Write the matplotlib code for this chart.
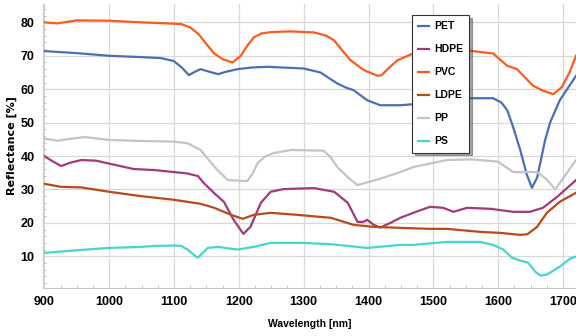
import matplotlib
matplotlib.use("Agg")
import matplotlib.pyplot as plt
from matplotlib.ticker import MultipleLocator

plt.rcParams['font.family'] = ['Liberation Sans', 'DejaVu Sans']

# PET
pet_x = [900, 950, 1000, 1050, 1080, 1100, 1112, 1123, 1132, 1141, 1155, 1168, 1180, 1198, 1220, 1245, 1300, 1326,
         1340, 1352, 1365, 1377, 1398, 1418, 1449, 1469, 1500, 1552, 1592, 1605, 1614, 1623, 1634, 1644, 1652, 1660,
         1665, 1672, 1680, 1695, 1720]
pet_y = [71.4, 70.8, 70.0, 69.6, 69.3, 68.4, 66.5, 64.2, 65.2, 66.0, 65.2, 64.5, 65.2, 66.0, 66.5, 66.7, 66.2, 65.0,
         63.2, 61.7, 60.5, 59.7, 56.7, 55.2, 55.2, 55.5, 56.5, 57.3, 57.3, 56.0, 53.7, 48.7, 41.8, 34.5, 30.5, 33.5,
         38.0, 44.5, 50.0, 56.7, 64.0]
# HDPE
hdpe_x = [900, 912, 926, 940, 957, 980, 1003, 1038, 1070, 1100, 1120, 1137, 1146, 1162, 1177, 1192, 1207, 1218,
          1234, 1249, 1269, 1316, 1347, 1368, 1383, 1392, 1398, 1408, 1418, 1434, 1449, 1469, 1495, 1515, 1531,
          1552, 1588, 1623, 1649, 1669, 1691, 1720]
hdpe_y = [40.0, 38.5, 37.0, 38.0, 38.8, 38.6, 37.6, 36.1, 35.8, 35.2, 34.8, 34.0, 31.9, 28.9, 26.3, 20.9, 16.7, 18.8,
          26.0, 29.3, 30.1, 30.4, 29.3, 26.0, 20.3, 20.3, 20.9, 19.4, 18.6, 20.0, 21.5, 23.0, 24.8, 24.5, 23.3,
          24.5, 24.2, 23.3, 23.3, 24.5, 27.8, 32.8]
# PVC
pvc_x = [900, 920, 950, 1000, 1050, 1090, 1111, 1125, 1138, 1150, 1162, 1175, 1190, 1203, 1213, 1223, 1235, 1250,
         1280, 1316, 1335, 1347, 1360, 1372, 1393, 1414, 1420, 1432, 1445, 1469, 1510, 1552, 1592, 1614, 1629, 1654,
         1670, 1685, 1698, 1710, 1720]
pvc_y = [80.0, 79.7, 80.6, 80.5, 80.0, 79.7, 79.5, 78.5, 76.5, 73.5, 70.7, 69.0, 68.0, 70.0, 73.0, 75.5, 76.7, 77.1,
         77.3, 77.0, 76.0, 74.6, 71.5, 68.7, 65.7, 64.0, 64.2, 66.5, 68.7, 70.7, 71.5, 71.6, 70.7, 67.0, 66.0, 61.0,
         59.5, 58.5, 60.6, 65.0, 70.0]
# LDPE
ldpe_x = [900, 925, 957, 1000, 1049, 1100, 1141, 1162, 1188, 1206, 1223, 1249, 1290, 1342, 1377, 1408, 1449, 1495,
          1521, 1572, 1603, 1634, 1645, 1660, 1675, 1695, 1720]
ldpe_y = [31.7, 30.8, 30.6, 29.3, 28.0, 26.9, 25.7, 24.5, 22.4, 21.2, 22.4, 23.0, 22.4, 21.5, 19.4, 18.8, 18.5, 18.2,
          18.2, 17.3, 17.0, 16.4, 16.6, 18.8, 23.0, 26.3, 29.0]
# PP
pp_x = [900, 920, 962, 1000, 1050, 1100, 1121, 1141, 1155, 1167, 1183, 1213, 1222, 1229, 1240, 1254, 1280, 1331,
        1342, 1352, 1369, 1383, 1418, 1449, 1469, 1521, 1560, 1600, 1623, 1660, 1675, 1688, 1706, 1720]
pp_y = [45.2, 44.6, 45.7, 44.8, 44.5, 44.3, 43.8, 41.8, 38.5, 35.8, 32.8, 32.5, 35.0, 37.9, 39.8, 40.9, 41.8, 41.6,
        39.5, 36.7, 33.5, 31.3, 33.2, 35.2, 36.7, 38.8, 39.0, 38.3, 35.2, 35.2, 33.0, 30.0, 35.0, 38.8]
# PS
ps_x = [900, 950, 1000, 1050, 1069, 1100, 1111, 1121, 1134, 1137, 1152, 1168, 1198, 1223, 1249, 1300, 1342, 1398,
        1449, 1469, 1521, 1572, 1592, 1608, 1621, 1634, 1646, 1657, 1665, 1675, 1695, 1711, 1720]
ps_y = [11.0, 11.8, 12.5, 12.8, 13.1, 13.2, 13.1, 12.0, 9.9, 9.6, 12.5, 12.8, 12.0, 12.8, 14.0, 14.0, 13.6, 12.5,
        13.4, 13.4, 14.3, 14.3, 13.4, 12.0, 9.6, 8.7, 8.1, 5.4, 4.2, 4.5, 6.9, 9.3, 9.9]

series = [("PET", pet_x, pet_y, "#4a6fb8"),
          ("HDPE", hdpe_x, hdpe_y, "#a03a7c"),
          ("PVC", pvc_x, pvc_y, "#ff5a1e"),
          ("LDPE", ldpe_x, ldpe_y, "#b84a1a"),
          ("PP", pp_x, pp_y, "#c4c4c4"),
          ("PS", ps_x, ps_y, "#45d6d0")]

fig = plt.figure(figsize=(5.76, 3.36), dpi=100)
ax = fig.add_axes([43/576, 1 - 288/336, 1 - 43/576, (288 - 4)/336])

for name, xs, ys, c in series:
    ax.plot(xs, ys, color=c, lw=1.6, label=name, solid_joinstyle='round')

ax.set_xlim(898, 1720)
ax.set_ylim(0.5, 85.5)
ax.xaxis.set_major_locator(MultipleLocator(100))
ax.xaxis.set_minor_locator(MultipleLocator(25))
ax.yaxis.set_minor_locator(MultipleLocator(2))
ax.set_yticks([10, 20, 30, 40, 50, 60, 70, 80])
ax.grid(True, which='major', color='#d8d8d8', lw=0.9)
ax.set_axisbelow(True)
ax.tick_params(which='both', direction='in', color='#bbbbbb', labelsize=9)
ax.tick_params(which='major', length=0, pad=6)
ax.tick_params(which='minor', length=2.5)
for lbl in ax.get_xticklabels() + ax.get_yticklabels():
    lbl.set_fontweight('bold')
for s in ['top', 'right']:
    ax.spines[s].set_visible(False)
for s in ['left', 'bottom']:
    ax.spines[s].set_color('#c8c8c8')

ax.set_xlabel("Wavelength [nm]", fontsize=7.5, fontweight='bold')
ax.xaxis.set_label_coords(0.5, -(324 - 288) / 284, transform=ax.transAxes)
ax.set_ylabel("Reflectance [%]", fontsize=8, fontweight='bold', family=['DejaVu Sans'])
ax.yaxis.set_label_coords(-(43 - 12) / 533, 0.5)
ax.xaxis.label.set_va('center')
ax.yaxis.label.set_va('center')

leg = ax.legend(loc='upper left', bbox_to_anchor=((412 - 43) / 533, (288 - 15) / 284), frameon=True, shadow=True,
                fancybox=False, handlelength=1.0, handletextpad=0.5, labelspacing=1.25,
                borderpad=0.6, borderaxespad=0, prop={'weight': 'bold', 'size': 7.5})
leg.get_frame().set_edgecolor('#333333')
leg.get_frame().set_linewidth(0.8)

fig.savefig("out.png", dpi=100)
